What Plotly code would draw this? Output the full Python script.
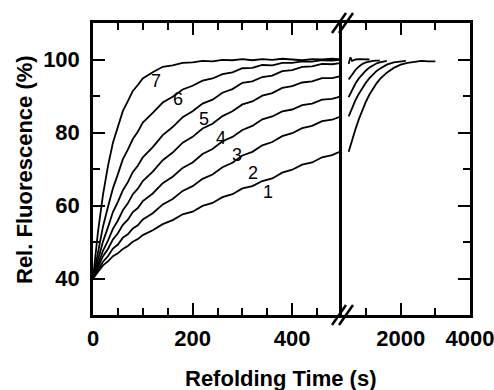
import plotly.graph_objects as go

# ---------------- data ----------------
t_left = [0, 10, 20, 30, 40, 50, 60, 70, 80, 90, 100, 120, 140, 160, 180, 200, 220, 240,
          260, 280, 300, 320, 340, 360, 380, 400, 420, 440, 460, 480, 500]

c7 = [40, 52.8, 62.9, 70.8, 77.2, 81.7, 85.9, 88.6, 91.4, 93.0, 94.8, 96.5, 98.0, 98.4, 99.1, 99.2,
      99.6, 99.5, 99.9, 99.8, 100.1, 99.8, 100.1, 99.9, 100.2, 100.0, 99.8, 100.1, 100.0, 100.2, 100.0]
c6 = [40, 47.5, 54.2, 59.6, 64.7, 68.6, 72.7, 75.3, 78.2, 80.2, 82.7, 85.4, 88.2, 89.8, 91.8, 92.8,
      94.2, 94.8, 96.0, 96.5, 97.6, 97.7, 98.5, 98.4, 99.1, 99.1, 99.5, 99.4, 99.8, 99.7, 100.0]
c5 = [40, 45.2, 50.1, 54.0, 58.2, 61.0, 64.2, 66.4, 69.2, 70.9, 73.2, 76.0, 79.3, 81.5, 84.2, 85.8,
      87.9, 89.0, 90.9, 91.9, 93.6, 94.0, 95.2, 95.6, 96.8, 97.1, 98.0, 98.1, 98.8, 98.7, 99.1]
c4 = [40, 44.0, 47.6, 50.4, 53.6, 55.9, 58.7, 60.6, 63.1, 64.6, 66.7, 69.3, 72.4, 74.5, 77.2, 78.8,
      81.1, 82.4, 84.5, 85.8, 87.7, 88.5, 90.1, 90.8, 92.2, 92.7, 93.7, 94.0, 94.9, 94.9, 95.5]
c3 = [40, 43.3, 46.1, 48.1, 50.7, 52.4, 54.7, 56.1, 58.2, 59.3, 61.2, 63.3, 66.1, 67.9, 70.3, 71.8,
      74.1, 75.5, 77.6, 78.8, 80.7, 81.8, 83.6, 84.4, 85.8, 86.3, 87.5, 87.9, 89.0, 89.2, 90.0]
c2 = [40, 42.5, 44.6, 46.1, 48.2, 49.3, 51.2, 52.1, 53.7, 54.6, 56.2, 57.9, 60.3, 61.8, 64.0, 65.3,
      67.3, 68.5, 70.5, 71.7, 73.7, 74.7, 76.5, 77.4, 79.0, 79.8, 81.2, 81.8, 83.1, 83.5, 84.5]
c1 = [40, 41.9, 43.6, 44.7, 46.1, 46.9, 48.1, 48.9, 50.1, 50.8, 51.9, 53.2, 54.9, 56.0, 57.6, 58.3,
      59.9, 60.7, 62.3, 63.1, 64.7, 65.3, 66.7, 67.4, 69.0, 69.8, 71.2, 71.8, 73.2, 73.8, 75.0]

r1_t = [500, 600, 700, 800, 900, 1000, 1100, 1200, 1300, 1400, 1500, 1600, 1800, 2000, 2200, 2400, 2600, 2800, 3000]
r1_v = [74.7, 78.0, 81.0, 83.8, 86.3, 88.5, 90.4, 92.0, 93.4, 94.6, 95.6, 96.4, 97.7, 98.6, 99.1, 99.4, 99.6, 99.5, 99.5]
r2_t = [500, 600, 700, 800, 900, 1000, 1100, 1200, 1300, 1400, 1500, 1600, 1800, 2000, 2150]
r2_v = [84.4, 86.8, 88.9, 90.7, 92.3, 93.7, 94.9, 95.9, 96.8, 97.5, 98.1, 98.6, 99.2, 99.5, 99.6]
r3_t = [500, 600, 700, 800, 900, 1000, 1100, 1200, 1300, 1400, 1500, 1600]
r3_v = [89.7, 91.8, 93.5, 94.9, 96.1, 97.0, 97.8, 98.4, 98.9, 99.2, 99.4, 99.6]
r4_t = [500, 600, 700, 800, 900, 1000, 1100, 1200, 1300, 1400]
r4_v = [94.5, 96.0, 97.2, 98.1, 98.8, 99.2, 99.5, 99.6, 99.7, 99.7]
r5_t = [500, 550, 600, 700, 800, 900, 1000, 1100]
r5_v = [98.8, 100.6, 99.6, 100.0, 100.1, 100.0, 100.0, 100.0]

label_text = ["1", "2", "3", "4", "5", "6", "7"]
label_t = [352, 322, 290, 258, 222, 170, 126]
label_v = [63.6, 68.9, 73.9, 78.6, 83.6, 89.2, 94.2]

y_ticks = [40, 60, 80, 100]
x_ticks_left = [0, 200, 400]
x_ticks_right = [2000, 4000]
x_minor_right = [1000, 3000]

# ---------------- figure ----------------
W, H = 494, 390
def px(x):
    return x / W
def py(y):
    return 1 - y / H

FONT = "Arial, Liberation Sans, sans-serif"
line = dict(color="black", width=1.8)

fig = go.Figure()
for c in [c1, c2, c3, c4, c5, c6, c7]:
    fig.add_trace(go.Scatter(x=t_left, y=c, mode="lines", line=line, xaxis="x", yaxis="y",
                             showlegend=False, hoverinfo="skip"))
for tt, vv in [(r1_t, r1_v), (r2_t, r2_v), (r3_t, r3_v), (r4_t, r4_v), (r5_t, r5_v)]:
    fig.add_trace(go.Scatter(x=tt, y=vv, mode="lines", line=line, xaxis="x2", yaxis="y2",
                             showlegend=False, hoverinfo="skip"))

tickfont = dict(family=FONT, size=22, color="black", weight="bold")

x0, xb, x1 = 93, 342, 470
yt, ybm = 23, 315

fig.update_layout(
    width=W, height=H, template="none",
    paper_bgcolor="white", plot_bgcolor="white",
    margin=dict(l=0, r=0, t=0, b=0),
    xaxis=dict(domain=[px(x0), px(xb)], range=[0, 500], anchor="y",
               tickvals=x_ticks_left, ticks="inside", ticklen=12, tickwidth=2, tickcolor="black",
               minor=dict(dtick=50, tick0=0, ticks="inside", ticklen=7, tickwidth=2, tickcolor="black"),
               showline=True, linewidth=2.5, linecolor="black", mirror="ticks",
               showgrid=False, zeroline=False, tickfont=tickfont, ticklabelstandoff=2,
               ticklabeloverflow="allow", automargin=False),
    yaxis=dict(domain=[py(ybm), py(yt)], range=[30, 110], anchor="x",
               tickvals=y_ticks, ticks="inside", ticklen=12, tickwidth=2, tickcolor="black",
               minor=dict(dtick=10, tick0=30, ticks="inside", ticklen=7, tickwidth=2, tickcolor="black"),
               showline=True, linewidth=2.5, linecolor="black", mirror=False,
               showgrid=False, zeroline=False, tickfont=tickfont, ticklabelstandoff=6,
               ticklabeloverflow="allow", automargin=False),
    xaxis2=dict(domain=[px(xb), px(x1)], range=[308, 4000], anchor="y2",
                tickvals=x_ticks_right, ticktext=["2000", "4000"], ticks="inside", ticklen=12,
                tickwidth=2, tickcolor="black",
                minor=dict(tickvals=x_minor_right, ticks="inside", ticklen=7, tickwidth=2, tickcolor="black"),
                showline=True, linewidth=2.5, linecolor="black", mirror="ticks",
                showgrid=False, zeroline=False, tickfont=tickfont, ticklabelstandoff=2,
                ticklabeloverflow="allow", automargin=False),
    yaxis2=dict(domain=[py(ybm), py(yt)], range=[30, 110], anchor="x2", side="right",
                tickvals=y_ticks, ticks="inside", ticklen=12, tickwidth=2, tickcolor="black",
                minor=dict(dtick=10, tick0=30, ticks="inside", ticklen=7, tickwidth=2, tickcolor="black"),
                showline=True, linewidth=2.5, linecolor="black", mirror=True,
                showticklabels=False, showgrid=False, zeroline=False, automargin=False),
)

# curve labels
for txt, tx, vy in zip(label_text, label_t, label_v):
    fig.add_annotation(x=tx, y=vy, xref="x", yref="y", text=txt, showarrow=False,
                       xanchor="center", yanchor="middle",
                       font=dict(family=FONT, size=18, color="black"))

# axis titles
fig.add_annotation(x=px(24), y=py(170), xref="paper", yref="paper", text="Rel. Fluorescence (%)",
                   textangle=-90, showarrow=False, xanchor="center", yanchor="middle",
                   font=dict(family=FONT, size=22, color="black", weight="bold"))
fig.add_annotation(x=px(281), y=py(378), xref="paper", yref="paper", text="Refolding Time (s)",
                   showarrow=False, xanchor="center", yanchor="middle",
                   font=dict(family=FONT, size=22, color="black", weight="bold"))

# axis break marks
for yc in (yt, ybm):
    for dx in (-3, 4):
        fig.add_shape(type="line", xref="paper", yref="paper",
                      x0=px(xb + dx - 7), y0=py(yc + 10), x1=px(xb + dx + 7), y1=py(yc - 10),
                      line=dict(color="black", width=2.5))

fig.write_html("out.html")
